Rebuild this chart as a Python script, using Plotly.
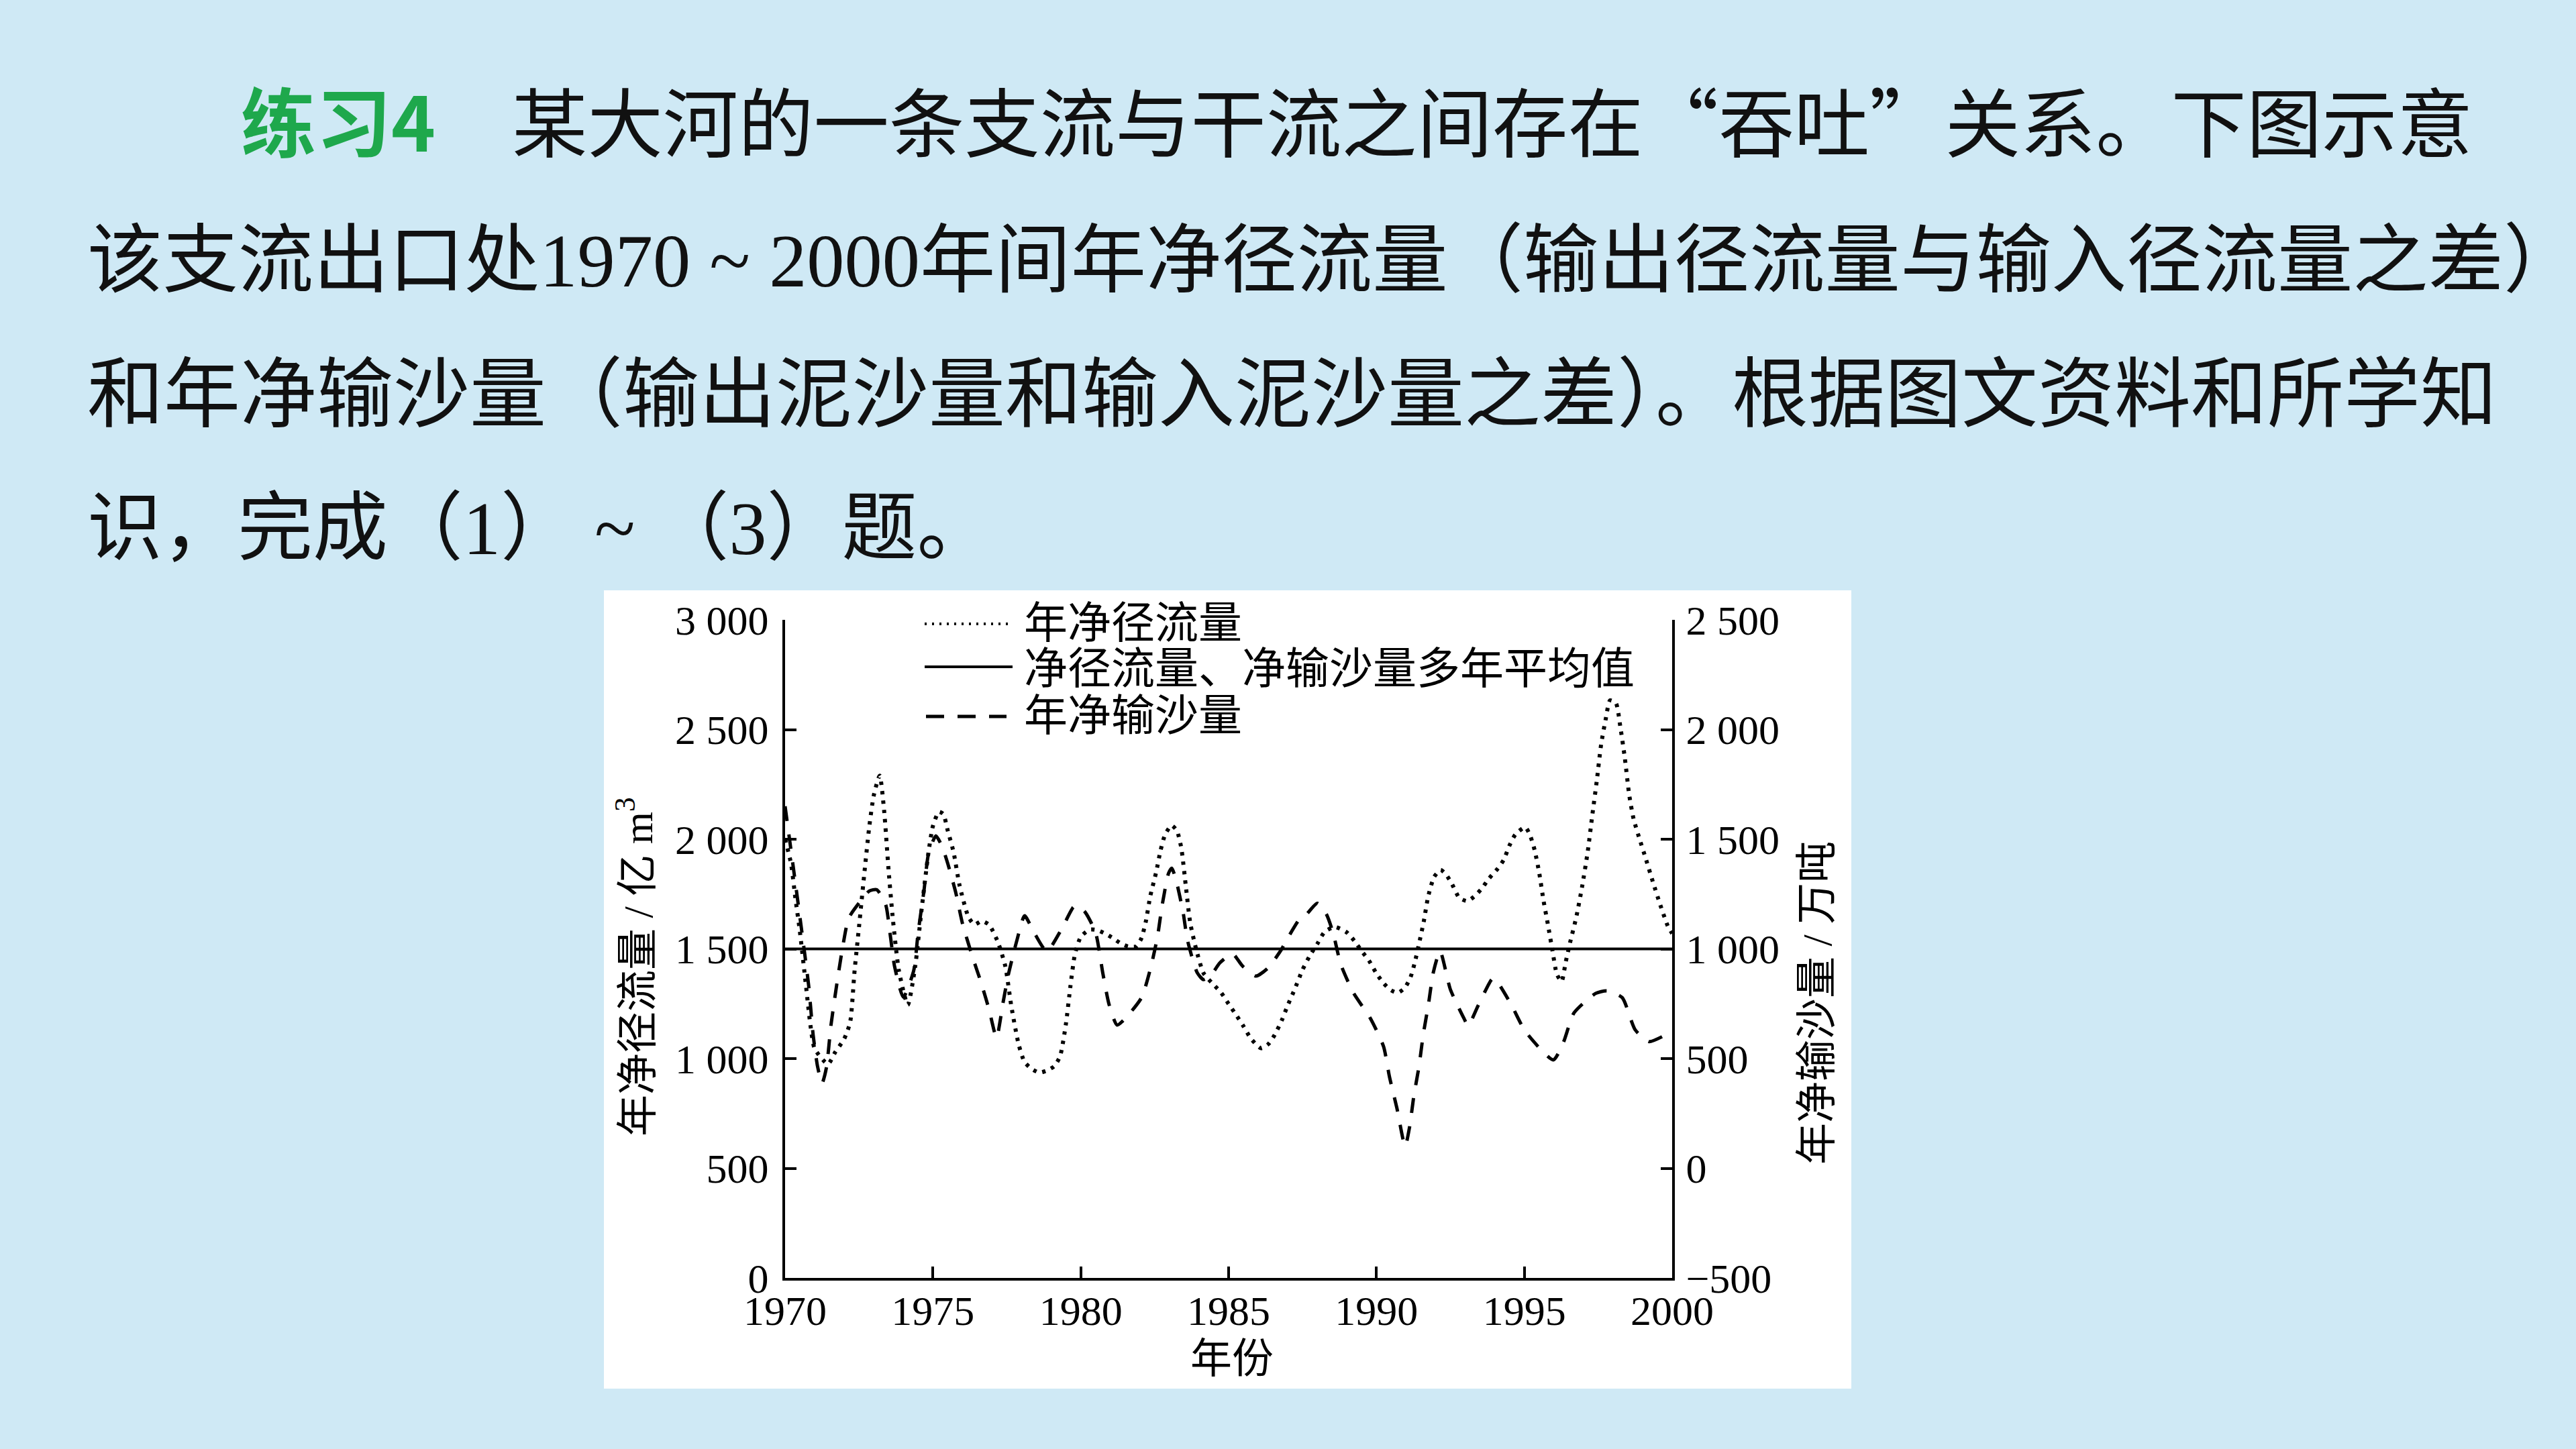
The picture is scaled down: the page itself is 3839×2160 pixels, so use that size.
import plotly.graph_objects as go

W, H = 3839, 2160

# ---------------- data ----------------
runoff_years = [1970.0, 1970.2, 1970.35, 1970.5, 1970.7, 1970.85, 1971.0, 1971.45, 1971.7, 1972.0,
                1972.2, 1972.35, 1972.5, 1972.7, 1972.85, 1973.0, 1973.2, 1973.35, 1973.5, 1973.65,
                1973.85, 1974.15, 1974.4, 1974.6, 1974.85, 1975.0, 1975.2, 1975.35, 1975.5, 1975.7,
                1975.9, 1976.2, 1976.4, 1976.65, 1976.9, 1977.2, 1977.45, 1977.65, 1977.9, 1978.1,
                1978.35, 1978.6, 1978.85, 1979.1, 1979.3, 1979.5, 1979.65, 1979.8, 1980.0, 1980.3,
                1980.55, 1980.85, 1981.1, 1981.35, 1981.6, 1981.87, 1982.05, 1982.2, 1982.35, 1982.55,
                1982.7, 1982.85, 1983.07, 1983.25, 1983.4, 1983.55, 1983.7, 1983.9, 1984.15, 1984.5,
                1984.75, 1985.0, 1985.25, 1985.5, 1985.75, 1986.1, 1986.35, 1986.55, 1986.8, 1987.0,
                1987.25, 1987.5, 1987.75, 1988.0, 1988.25, 1988.6, 1989.0, 1989.25, 1989.5, 1989.75,
                1990.0, 1990.25, 1990.5, 1990.72, 1990.95, 1991.15, 1991.3, 1991.45, 1991.6, 1991.75,
                1991.95, 1992.17, 1992.35, 1992.55, 1992.8, 1993.07, 1993.3, 1993.55, 1993.8, 1994.1,
                1994.3, 1994.5, 1994.7, 1995.03, 1995.2, 1995.35, 1995.5, 1995.65, 1995.8, 1995.95,
                1996.1, 1996.26, 1996.4, 1996.55, 1996.75, 1996.95, 1997.15, 1997.3, 1997.45, 1997.6,
                1997.75, 1997.9, 1998.1, 1998.25, 1998.4, 1998.55, 1998.7, 1998.9, 1999.1, 1999.35,
                1999.6, 1999.85, 2000.0]
runoff_values = [2000, 1890, 1730, 1580, 1340, 1160, 1045, 975, 1030, 1090,
                 1165, 1400, 1600, 1870, 2060, 2200, 2290, 2130, 1860, 1630,
                 1400, 1245, 1420, 1660, 1940, 2060, 2125, 2115, 2040, 1940,
                 1790, 1646, 1611, 1627, 1610, 1530, 1420, 1240, 1064, 984,
                 952, 936, 945, 965, 1010, 1160, 1330, 1474, 1555, 1588,
                 1586, 1568, 1548, 1525, 1511, 1511, 1548, 1625, 1740, 1850,
                 1950, 2020, 2063, 2039, 1960, 1790, 1620, 1500, 1390, 1336,
                 1300, 1249, 1200, 1148, 1092, 1047, 1067, 1106, 1175, 1243,
                 1321, 1405, 1470, 1523, 1578, 1600, 1575, 1537, 1490, 1446,
                 1388, 1342, 1311, 1300, 1321, 1370, 1440, 1530, 1625, 1740,
                 1828, 1860, 1840, 1797, 1733, 1718, 1738, 1773, 1820, 1866,
                 1905, 1972, 2022, 2055, 2016, 1950, 1850, 1720, 1610, 1494,
                 1385, 1351, 1440, 1530, 1640, 1780, 1948, 2110, 2265, 2434,
                 2545, 2633, 2620, 2510, 2370, 2200, 2090, 2000, 1915, 1805,
                 1700, 1605, 1570]

sediment_years = [1970.0, 1970.3, 1970.6, 1970.8, 1970.95, 1971.1, 1971.25, 1971.4, 1971.55, 1971.75,
                  1971.95, 1972.15, 1972.55, 1972.85, 1973.1, 1973.4, 1973.56, 1973.7, 1974.0, 1974.35,
                  1974.5, 1974.7, 1974.85, 1975.1, 1975.3, 1975.5, 1975.77, 1976.0, 1976.35, 1976.63,
                  1976.9, 1977.15, 1977.37, 1977.55, 1977.85, 1978.1, 1978.4, 1978.85, 1979.35, 1979.75,
                  1979.9, 1980.15, 1980.5, 1980.75, 1980.96, 1981.23, 1981.57, 1982.06, 1982.37, 1982.6,
                  1982.75, 1982.97, 1983.08, 1983.23, 1983.46, 1983.61, 1983.94, 1984.15, 1984.4, 1984.71,
                  1985.13, 1985.47, 1985.92, 1986.34, 1986.79, 1986.94, 1987.4, 1987.59, 1988.0, 1988.3,
                  1988.53, 1988.79, 1989.22, 1989.8, 1990.24, 1990.44, 1990.69, 1990.97, 1991.12, 1991.26,
                  1991.44, 1991.58, 1991.76, 1991.92, 1992.15, 1992.5, 1992.96, 1993.1, 1993.44, 1993.9,
                  1994.0, 1994.55, 1995.03, 1995.98, 1996.32, 1996.68, 1997.41, 1997.8, 1998.31, 1998.75,
                  1999.22, 1999.77, 2000.0]
sediment_values = [1650, 1350, 1044, 830, 607, 463, 387, 460, 650, 840,
                   1010, 1140, 1218, 1264, 1270, 1203, 1060, 922, 780, 901,
                   1075, 1268, 1433, 1515, 1470, 1390, 1258, 1115, 959, 846,
                   723, 595, 754, 882, 1044, 1151, 1080, 989, 1090, 1190,
                   1197, 1167, 1075, 886, 745, 653, 693, 779, 917, 1060,
                   1197, 1345, 1368, 1310, 1167, 1039, 891, 860, 880, 937,
                   978, 922, 876, 914, 998, 1035, 1136, 1151, 1208, 1160,
                   1075, 931, 800, 682, 555, 417, 275, 100, 188, 326,
                   466, 607, 749, 891, 990, 815, 683, 650, 742, 861,
                   864, 748, 625, 494, 573, 708, 797, 809, 778, 631,
                   577, 607, 620]

mean_years = [1970, 2000]
mean_runoff = 1500      # 亿 m³ ; equals 1 000 万吨 on the right axis

x_ticks = [1970, 1975, 1980, 1985, 1990, 1995, 2000]
x_ticktext = ["1970", "1975", "1980", "1985", "1990", "1995", "2000"]
left_ticks = [0, 500, 1000, 1500, 2000, 2500, 3000]
left_ticktext = ["0", "500", "1 000", "1 500", "2 000", "2 500", "3 000"]
right_ticks = [-500, 0, 500, 1000, 1500, 2000, 2500]
right_ticktext = ["\u2212500", "0", "500", "1 000", "1 500", "2 000", "2 500"]

legend_labels = ["年净径流量", "净径流量、净输沙量多年平均值", "年净输沙量"]


def px(x):
    return x / W


def py(y):
    return 1 - y / H


SERIF = "Liberation Serif, Noto Sans CJK SC"
CJK = "Noto Sans CJK SC"
BG = "#cfe9f5"

fig = go.Figure()
fig.add_trace(go.Scatter(x=mean_years, y=[mean_runoff, mean_runoff], mode="lines",
                         line=dict(color="black", width=4), yaxis="y", showlegend=False,
                         hoverinfo="skip"))
fig.add_trace(go.Scatter(x=runoff_years, y=runoff_values, mode="lines",
                         line=dict(color="black", width=6, dash="5px,9px", shape="spline", smoothing=0.6),
                         yaxis="y", showlegend=False))
fig.add_trace(go.Scatter(x=sediment_years, y=sediment_values, mode="lines",
                         line=dict(color="black", width=5, dash="22px,20px", shape="spline", smoothing=0.6),
                         yaxis="y2", showlegend=False))

axis_common = dict(showline=True, linewidth=4, linecolor="black", ticks="inside", ticklen=17,
                   tickwidth=4, tickcolor="black", showgrid=False, zeroline=False, automargin=False,
                   tickfont=dict(family="Liberation Serif", size=62, color="black"))

xdom = [px(1170), px(2492)]
ydom = [py(1905), py(924)]

fig.update_layout(
    width=W, height=H, autosize=False,
    margin=dict(l=0, r=0, t=0, b=0, pad=0, autoexpand=False),
    paper_bgcolor=BG, plot_bgcolor="white",
    showlegend=False,
    xaxis=dict(domain=xdom, range=[1970, 2000], tickvals=x_ticks, ticktext=x_ticktext,
               ticklabelstandoff=-8, **axis_common),
    yaxis=dict(domain=ydom, range=[0, 3000], tickvals=left_ticks, ticktext=left_ticktext,
               ticklabelstandoff=8, **axis_common),
    yaxis2=dict(domain=ydom, range=[-500, 2500], tickvals=right_ticks, ticktext=right_ticktext,
                overlaying="y", side="right", anchor="x", ticklabelstandoff=4, **axis_common),
)

shapes = []
# white picture box
shapes.append(dict(type="rect", xref="paper", yref="paper", x0=px(900), x1=px(2759),
                   y0=py(2070), y1=py(880), fillcolor="white", line=dict(width=0), layer="below"))
# legend keys
shapes.append(dict(type="line", xref="paper", yref="paper", x0=px(1378), x1=px(1502),
                   y0=py(930), y1=py(930), line=dict(color="black", width=4, dash="3px,8px")))
shapes.append(dict(type="line", xref="paper", yref="paper", x0=px(1378), x1=px(1509),
                   y0=py(994), y1=py(994), line=dict(color="black", width=4)))
shapes.append(dict(type="line", xref="paper", yref="paper", x0=px(1380), x1=px(1500),
                   y0=py(1068), y1=py(1068), line=dict(color="black", width=5, dash="27px,20px")))
fig.update_layout(shapes=shapes)

ann = []
for lab, yc in zip(legend_labels, [923, 991, 1061]):
    ann.append(dict(text=lab, x=px(1524), y=py(yc), xref="paper", yref="paper",
                    xanchor="left", yanchor="middle", showarrow=False,
                    font=dict(family=CJK, size=65, color="black")))

# axis titles
ann.append(dict(text="年净径流量 / 亿 m<sup>3</sup>", x=px(946), y=py(1441), xref="paper", yref="paper",
                xanchor="center", yanchor="middle", textangle=-90, showarrow=False,
                font=dict(family=SERIF, size=62, color="black")))
ann.append(dict(text="年净输沙量 / 万吨", x=px(2708), y=py(1495), xref="paper", yref="paper",
                xanchor="center", yanchor="middle", textangle=-90, showarrow=False,
                font=dict(family=SERIF, size=62, color="black")))
ann.append(dict(text="年份", x=px(1836), y=py(2026), xref="paper", yref="paper",
                xanchor="center", yanchor="middle", showarrow=False,
                font=dict(family=SERIF, size=62, color="black")))

# slide text
ser = '<span style="font-family:Liberation Serif">'
ann.append(dict(text="<b>练习4</b>", x=px(357), y=py(177), xref="paper", yref="paper",
                xanchor="left", yanchor="middle", showarrow=False,
                font=dict(family=CJK, size=112, color="#1ea84c")))
ann.append(dict(text="某大河的一条支流与干流之间存在\u201c吞吐\u201d关系。下图示意", x=px(761), y=py(177),
                xref="paper", yref="paper", xanchor="left", yanchor="middle", showarrow=False,
                font=dict(family=CJK, size=112.4, color="#111111")))
ann.append(dict(text="该支流出口处" + ser + "1970 ~ 2000</span>年间年净径流量（输出径流量与输入径流量之差）",
                x=px(128), y=py(378), xref="paper", yref="paper", xanchor="left", yanchor="middle",
                showarrow=False, font=dict(family=CJK, size=112.4, color="#111111")))
ann.append(dict(text="和年净输沙量（输出泥沙量和输入泥沙量之差）。根据图文资料和所学知",
                x=px(128), y=py(577), xref="paper", yref="paper", xanchor="left", yanchor="middle",
                showarrow=False, font=dict(family=CJK, size=114, color="#111111")))
ann.append(dict(text="识，完成（" + ser + "1</span>）" + ser + " ~ </span>（" + ser + "3</span>）题。",
                x=px(128), y=py(777), xref="paper", yref="paper", xanchor="left", yanchor="middle",
                showarrow=False, font=dict(family=CJK, size=112, color="#111111")))
fig.update_layout(annotations=ann)

fig.write_html("out.html")
